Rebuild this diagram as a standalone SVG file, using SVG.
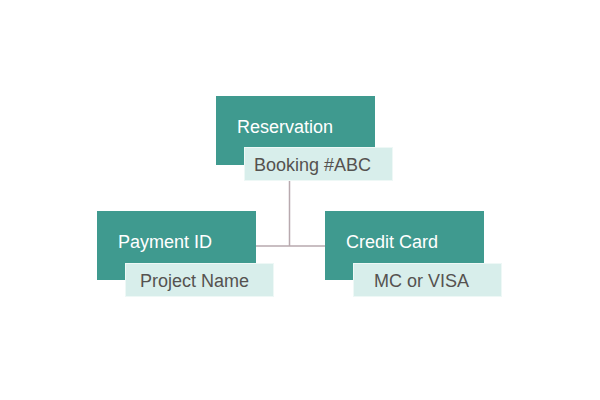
<svg xmlns="http://www.w3.org/2000/svg" width="600" height="400" viewBox="0 0 600 400">
<style>
.d{fill:#3f9a8f}
.l{fill:#d8eeeb;stroke:#eef8f6;stroke-width:1}
.t1{font-family:"Liberation Sans",Arial,sans-serif;font-size:18px;fill:#fff}
.t2{font-family:"Liberation Sans",Arial,sans-serif;font-size:18px;fill:#555250}
.c{stroke:#b8a9ae;stroke-width:1.5;fill:none}
</style>
<rect width="600" height="400" fill="#fff"/>
<g id="connectors">
<path class="c" d="M289.5 180V246M255 246H325"/>
</g>
<g id="reservation">
<rect class="d" x="216" y="96" width="159" height="69"/>
<rect class="l" x="244.5" y="147.5" width="148" height="33"/>
<text class="t1" x="237" y="133">Reservation</text>
<text class="t2" x="254" y="171">Booking #ABC</text>
</g>
<g id="payment">
<rect class="d" x="97" y="211" width="159" height="69"/>
<rect class="l" x="125.5" y="263.5" width="148" height="33"/>
<text class="t1" x="118" y="248">Payment ID</text>
<text class="t2" x="140" y="287">Project Name</text>
</g>
<g id="credit">
<rect class="d" x="325" y="211" width="159" height="69"/>
<rect class="l" x="353.5" y="263.5" width="148" height="33"/>
<text class="t1" x="346" y="248">Credit Card</text>
<text class="t2" x="374" y="287">MC or VISA</text>
</g>
</svg>
